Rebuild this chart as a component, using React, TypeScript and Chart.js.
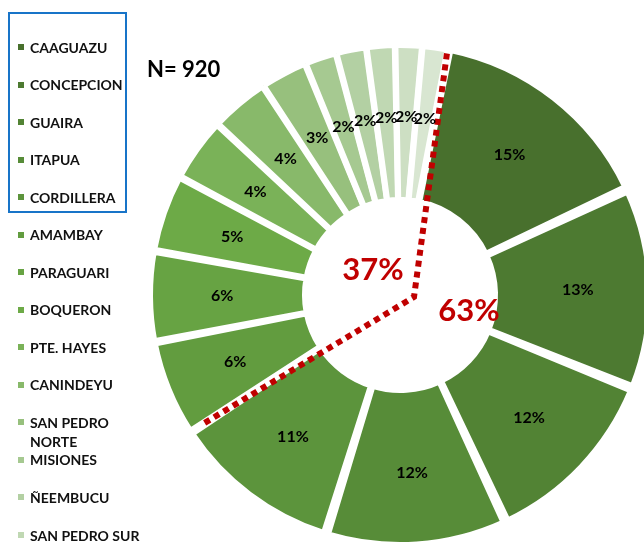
import React, { useEffect, useRef } from "react";
import { Chart, registerables } from "chart.js";

Chart.register(...registerables);

const departments = [
  "CAAGUAZU",
  "CONCEPCION",
  "GUAIRA",
  "ITAPUA",
  "CORDILLERA",
  "AMAMBAY",
  "PARAGUARI",
  "BOQUERON",
  "PTE. HAYES",
  "CANINDEYU",
  "SAN PEDRO NORTE",
  "MISIONES",
  "ÑEEMBUCU",
  "SAN PEDRO SUR",
  "CAAZAPA",
  "ALTO PARAGUAY",
];
const counts = [138, 120, 110, 108, 101, 57, 54, 46, 38, 35, 28, 19, 18, 17, 16, 15];
const sliceColors = [
  "#48702D",
  "#4D7A31",
  "#528334",
  "#578C38",
  "#5C943C",
  "#629C3F",
  "#67A343",
  "#6DAA47",
  "#7AB258",
  "#88B96A",
  "#97C07D",
  "#A6C991",
  "#B3D0A3",
  "#C0D8B3",
  "#CDDFC3",
  "#D8E6D1",
];
const boxedCount = 5; // first group (boxed in legend, right side of the ring)
const sampleLabel = "N= 920";

const FONT = "Lato, 'Open Sans', 'DejaVu Sans', sans-serif";

const overlay = {
  id: "overlay",
  afterDatasetsDraw(chart: any) {
    const ctx: CanvasRenderingContext2D = chart.ctx;
    const arcs = chart.getDatasetMeta(0).data;
    const total = counts.reduce((a, b) => a + b, 0);
    const props = ["x", "y", "startAngle", "endAngle", "innerRadius", "outerRadius"];
    const first = arcs[0].getProps(props, true);
    const last = arcs[boxedCount - 1].getProps(props, true);
    const cx = first.x;
    const cy = first.y;
    const R = first.outerRadius;

    // red dotted separator
    ctx.save();
    ctx.strokeStyle = "#C00000";
    ctx.lineWidth = 6;
    ctx.setLineDash([6, 5]);
    ctx.beginPath();
    ctx.moveTo(cx + Math.cos(first.startAngle) * R, cy + Math.sin(first.startAngle) * R);
    ctx.lineTo(cx + 14, cy + 2);
    ctx.lineTo(cx + Math.cos(last.endAngle) * R * 0.95, cy + Math.sin(last.endAngle) * R * 0.95);
    ctx.stroke();
    ctx.restore();

    // slice labels
    ctx.save();
    ctx.fillStyle = "#000";
    ctx.font = `bold 16px ${FONT}`;
    ctx.textAlign = "center";
    ctx.textBaseline = "middle";
    arcs.forEach((arc: any, i: number) => {
      const p = arc.getProps(props, true);
      const mid = (p.startAngle + p.endAngle) / 2;
      const r = p.innerRadius + 0.56 * (p.outerRadius - p.innerRadius);
      const pct = Math.round((counts[i] / total) * 100);
      ctx.fillText(pct + "%", p.x + Math.cos(mid) * r, p.y + Math.sin(mid) * r);
    });

    // group totals
    const g1 = counts.slice(0, boxedCount).reduce((a, b) => a + b, 0);
    const p1 = Math.round((g1 / total) * 100);
    const p2 = 100 - p1;
    ctx.fillStyle = "#C00000";
    ctx.font = `bold 31px ${FONT}`;
    ctx.fillText(p2 + "%", cx - 27, cy - 25);
    ctx.fillText(p1 + "%", cx + 69, cy + 16);

    // sample size
    ctx.fillStyle = "#000";
    ctx.font = `bold 22px ${FONT}`;
    ctx.textAlign = "left";
    ctx.fillText(sampleLabel, 147, 70);
    ctx.restore();
  },
};

export default function App() {
  const ref = useRef<HTMLCanvasElement>(null);

  useEffect(() => {
    if (!ref.current) return;
    const chart = new Chart(ref.current, {
      type: "doughnut",
      data: {
        labels: departments,
        datasets: [
          {
            data: counts,
            backgroundColor: sliceColors,
            borderColor: "#ffffff",
            borderWidth: 6,
            spacing: 8,
            hoverOffset: 0,
          } as any,
        ],
      },
      options: {
        animation: false,
        responsive: false,
        rotation: 11,
        cutout: "37%",
        spacing: 8,
        events: [],
        layout: { padding: { left: 147, top: 42, right: 47, bottom: 52 } },
        plugins: { legend: { display: false }, tooltip: { enabled: false } },
      } as any,
      plugins: [overlay],
    });
    return () => chart.destroy();
  }, []);

  const step = 37.54;
  const firstY = 47;

  return (
    <div
      style={{
        position: "absolute",
        left: 0,
        top: 0,
        width: 644,
        height: 542,
        overflow: "hidden",
        background: "#fff",
        fontFamily: FONT,
      }}
    >
      <canvas ref={ref} width={700} height={600} style={{ position: "absolute", left: 0, top: 0, width: 700, height: 600 }} />
      <div
        style={{
          position: "absolute",
          left: 8,
          top: 12,
          width: 115,
          height: 197,
          border: "2px solid #1874C8",
        }}
      />
      {departments.map((name, i) => {
        const cy = firstY + i * step;
        if (cy > 545) return null;
        return (
          <div key={name} style={{ position: "absolute", left: 0, top: cy - 9.5 }}>
            <div
              style={{
                position: "absolute",
                left: 18,
                top: 6.5,
                width: 6,
                height: 6,
                background: sliceColors[i],
              }}
            />
            <div
              style={{
                position: "absolute",
                left: 30,
                top: 0,
                width: 118,
                fontWeight: "bold",
                fontSize: 14,
                lineHeight: "19px",
                color: "#111",
                whiteSpace: "normal",
              }}
            >
              {name}
            </div>
          </div>
        );
      })}
    </div>
  );
}
